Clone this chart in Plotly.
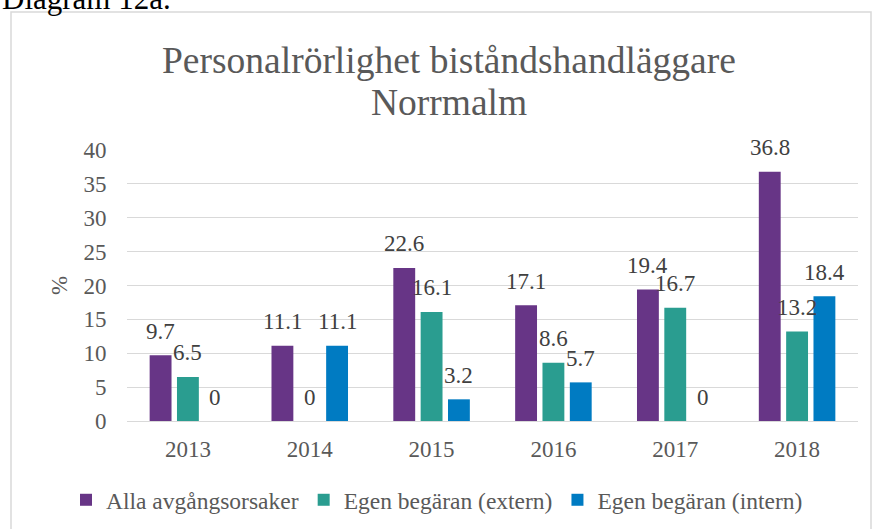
import plotly.graph_objects as go

years = ["2013", "2014", "2015", "2016", "2017", "2018"]
series_names = ["Alla avgångsorsaker", "Egen begäran (extern)", "Egen begäran (intern)"]
alla = [9.7, 11.1, 22.6, 17.1, 19.4, 36.8]
extern = [6.5, 0, 16.1, 8.6, 16.7, 13.2]
intern = [0, 11.1, 3.2, 5.7, 0, 18.4]
y_ticks = [0, 5, 10, 15, 20, 25, 30, 35, 40]

colors = ["#673586", "#2A9D90", "#007BC2"]
FONT = "Liberation Serif, Times New Roman, serif"
GRAY = "#595959"

W, H = 875, 529
L, R, T, B = 127, 17, 150, 108
plot_w = W - L - R
plot_h = H - T - B

fig = go.Figure()
all_series = [alla, extern, intern]
for name, vals, col in zip(series_names, all_series, colors):
    fig.add_trace(go.Bar(x=years, y=vals, name=name, marker=dict(color=col, line=dict(width=0))))

bargap = 0.327
bargroupgap = 0.2
cat_w = plot_w / len(years)
slot = cat_w * (1 - bargap) / 3

annotations = []
for i, vals in enumerate(all_series):
    for j, v in enumerate(vals):
        annotations.append(dict(
            x=j, y=v, xref="x", yref="y", text=f"{v:g}", showarrow=False,
            xshift=(i - 1) * slot, yshift=24, yanchor="middle", xanchor="center",
            font=dict(family=FONT, size=23, color="#404040"),
        ))

def py(px):
    return (H - B - px) / plot_h

def px_x(px):
    return (px - L) / plot_w

# Title lines
annotations.append(dict(text="Personalrörlighet biståndshandläggare", x=px_x(449), y=py(60),
                        xref="paper", yref="paper", showarrow=False, xanchor="center", yanchor="middle",
                        font=dict(family=FONT, size=37.5, color=GRAY)))
annotations.append(dict(text="Norrmalm", x=px_x(449), y=py(103),
                        xref="paper", yref="paper", showarrow=False, xanchor="center", yanchor="middle",
                        font=dict(family=FONT, size=37.5, color=GRAY)))
# Caption cut at top
annotations.append(dict(text="Diagram 12a.", x=px_x(0), y=py(-2),
                        xref="paper", yref="paper", showarrow=False, xanchor="left", yanchor="middle",
                        font=dict(family=FONT, size=31, color="#000000")))

fig.update_layout(
    width=W, height=H,
    margin=dict(l=L, r=R, t=T, b=B, autoexpand=False),
    paper_bgcolor="white", plot_bgcolor="white",
    barmode="group", bargap=bargap, bargroupgap=bargroupgap,
    font=dict(family=FONT, color=GRAY),
    showlegend=True,
    legend=dict(orientation="h", x=px_x(66), xanchor="left", y=py(500), yanchor="middle",
                font=dict(family=FONT, size=23.5, color=GRAY), bgcolor="rgba(0,0,0,0)",
                traceorder="normal", itemwidth=30),
    annotations=annotations,
    shapes=[dict(type="rect", xref="paper", yref="paper",
                 x0=px_x(11), x1=px_x(871), y0=py(545), y1=py(12),
                 line=dict(color="#D9D9D9", width=1.5), fillcolor="rgba(0,0,0,0)", layer="below")],
)
fig.update_xaxes(
    type="category", range=[-0.5, len(years) - 0.5], showgrid=False, zeroline=False, showline=False,
    ticks="outside", ticklen=7, tickcolor="rgba(0,0,0,0)",
    tickfont=dict(family=FONT, size=23, color=GRAY),
)
fig.update_yaxes(
    range=[0, 40], tickvals=y_ticks, ticktext=[str(t) for t in y_ticks],
    showgrid=True, gridcolor="#D9D9D9", gridwidth=1.3,
    zeroline=True, zerolinecolor="#D9D9D9", zerolinewidth=1.3, showline=False,
    ticks="outside", ticklen=15, tickcolor="rgba(0,0,0,0)",
    tickfont=dict(family=FONT, size=23, color=GRAY),
    title=dict(text="%", font=dict(family=FONT, size=23, color=GRAY), standoff=9),
)

fig.write_html("out.html", config={"displayModeBar": False},
               post_script="document.body.style.margin='0px';")
